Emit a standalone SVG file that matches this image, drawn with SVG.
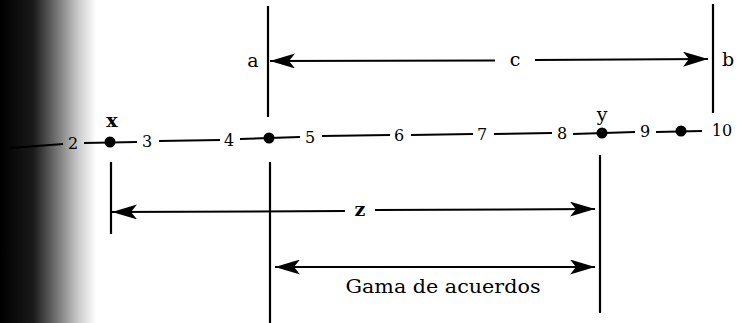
<svg xmlns="http://www.w3.org/2000/svg" width="740" height="323" viewBox="0 0 740 323">
<style>
.ln{stroke:#000;stroke-width:2;fill:none}
.vl{stroke:#000;stroke-width:2.2;fill:none}
.num{font-family:"DejaVu Serif","Liberation Serif",serif;font-size:16px;fill:#000;text-anchor:middle}
.lbl{font-family:"DejaVu Serif","Liberation Serif",serif;font-size:19px;fill:#000;text-anchor:middle}
.dot{fill:#000}
</style>
<defs>
<linearGradient id="shadow" x1="0" y1="0" x2="1" y2="0">
<stop offset="0" stop-color="#000"/>
<stop offset="0.35" stop-color="#1a1a1a"/>
<stop offset="0.6" stop-color="#777"/>
<stop offset="0.82" stop-color="#ccc"/>
<stop offset="1" stop-color="#fff"/>
</linearGradient>
<marker id="ah" viewBox="0 0 25 15" refX="25" refY="7.5" markerWidth="25" markerHeight="15" markerUnits="userSpaceOnUse" orient="auto-start-reverse">
<path d="M0,0 L25,7.5 L0,15 L6,7.5 Z" fill="#000"/>
</marker>
</defs>
<rect x="0" y="0" width="96" height="323" fill="url(#shadow)"/>

<g id="number-line">
<line class="ln" x1="10" y1="148" x2="63" y2="144"/>
<text class="num" x="73" y="149">2</text>
<line class="ln" x1="84" y1="143" x2="137" y2="142"/>
<text class="num" x="147" y="147">3</text>
<line class="ln" x1="159" y1="141" x2="220" y2="140"/>
<text class="num" x="229" y="146">4</text>
<line class="ln" x1="240" y1="139" x2="300" y2="137"/>
<text class="num" x="310" y="143">5</text>
<line class="ln" x1="322" y1="136" x2="390" y2="135"/>
<text class="num" x="399" y="141">6</text>
<line class="ln" x1="411" y1="135" x2="473" y2="134"/>
<text class="num" x="482" y="140">7</text>
<line class="ln" x1="494" y1="134" x2="552" y2="133"/>
<text class="num" x="562" y="139">8</text>
<line class="ln" x1="573" y1="134" x2="635" y2="132"/>
<text class="num" x="645" y="137">9</text>
<line class="ln" x1="656" y1="132" x2="702" y2="131"/>
<text class="num" x="722" y="136">10</text>
</g>

<g id="point-x">
<circle class="dot" cx="110" cy="142" r="5.5"/>
<text class="lbl" x="112" y="127" font-weight="bold">x</text>
</g>
<g id="point-a">
<circle class="dot" cx="269" cy="138" r="5.5"/>
</g>
<g id="point-y">
<circle class="dot" cx="602" cy="133" r="5.5"/>
<text class="lbl" x="602" y="121">y</text>
</g>
<g id="point-10">
<circle class="dot" cx="681" cy="131" r="5.5"/>
</g>

<g id="bound-a">
<line class="vl" x1="268" y1="6" x2="268" y2="117"/>
<text class="lbl" x="253" y="67">a</text>
</g>
<g id="bound-b">
<line class="vl" x1="713" y1="4" x2="713" y2="113"/>
<text class="lbl" x="728" y="66">b</text>
</g>
<g id="bound-x">
<line class="vl" x1="111" y1="162" x2="111" y2="234"/>
</g>
<g id="bound-a-low">
<line class="vl" x1="270" y1="162" x2="270" y2="323"/>
</g>
<g id="bound-y">
<line class="vl" x1="600" y1="155" x2="600" y2="313"/>
</g>

<g id="connectors">
<line class="ln" x1="495" y1="60.5" x2="270" y2="61" marker-end="url(#ah)"/>
<line class="ln" x1="535" y1="60" x2="708" y2="59" marker-end="url(#ah)"/>
<line class="ln" x1="345" y1="211" x2="112" y2="212" marker-end="url(#ah)"/>
<line class="ln" x1="375" y1="210" x2="595" y2="209" marker-end="url(#ah)"/>
<line class="ln" x1="275" y1="267" x2="595" y2="267" marker-start="url(#ah)" marker-end="url(#ah)"/>
</g>

<g id="labels">
<text class="lbl" x="515" y="66">c</text>
<text class="lbl" x="360" y="216" font-weight="bold">z</text>
<text class="lbl" x="443" y="293" textLength="195" lengthAdjust="spacingAndGlyphs">Gama de acuerdos</text>
</g>
</svg>
